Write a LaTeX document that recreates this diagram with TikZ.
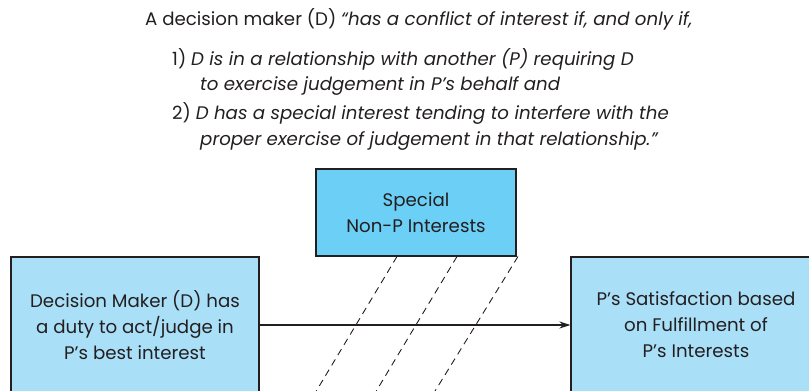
\documentclass[tikz,border=0pt]{standalone}
\usepackage{fontspec}
\setmainfont{Poppins}
\usetikzlibrary{arrows.meta}
\definecolor{topbox}{RGB}{107,207,246}
\definecolor{sidebox}{RGB}{170,223,248}
\definecolor{ink}{RGB}{35,31,32}
\begin{document}
\begin{tikzpicture}[x=1pt,y=-1pt,
  box/.style={draw=ink, line width=1.1pt, inner sep=0pt, align=center, text=ink, font=\fontsize{18.2}{26}\selectfont},
  hline/.style={anchor=base west, inner sep=0pt, text=ink, font=\fontsize{18.2}{20}\selectfont},
  dashline/.style={draw=ink, line width=0.9pt, dash pattern=on 7pt off 5pt},
]
\useasboundingbox (0,0) rectangle (809,391);
\clip (0,0) rectangle (809,391);
\node[hline] (h1) at (145,25) {A decision maker (D) \textit{“has a conflict of interest if, and only if,}};
\node[hline] (h2) at (172,65) {1) \textit{D is in a relationship with another (P) requiring D}};
\node[hline] (h3) at (200,90) {\textit{to exercise judgement in P’s behalf and}};
\node[hline] (h4) at (172,119) {2) \textit{D has a special interest tending to interfere with the}};
\node[hline] (h5) at (200,145) {\textit{proper exercise of judgement in that relationship.”}};
\node[box, fill=topbox, minimum width=200pt, minimum height=87pt] (spec) at (416,212.5) {Special\\Non-P Interests};
\node[box, fill=sidebox, minimum width=248pt, minimum height=136pt] (dm) at (135,325) {Decision Maker (D) has\\a duty to act/judge in\\P’s best interest};
\node[box, fill=sidebox, minimum width=250pt, minimum height=136pt] (ps) at (696,325) {P’s Satisfaction based\\on Fulfillment of\\P’s Interests};
\draw[ink, line width=1.1pt, -{Stealth[length=11pt,width=7pt]}] (dm.east) -- (ps.west);
\coordinate (a1) at (397,256.5); \coordinate (a2) at (310.9,400);
\coordinate (b1) at (457,256.5); \coordinate (b2) at (370.9,400);
\coordinate (c1) at (518,256.5); \coordinate (c2) at (429.5,400);
\draw[dashline] (a1) -- (a2);
\draw[dashline] (b1) -- (b2);
\draw[dashline] (c1) -- (c2);
\end{tikzpicture}
\end{document}
